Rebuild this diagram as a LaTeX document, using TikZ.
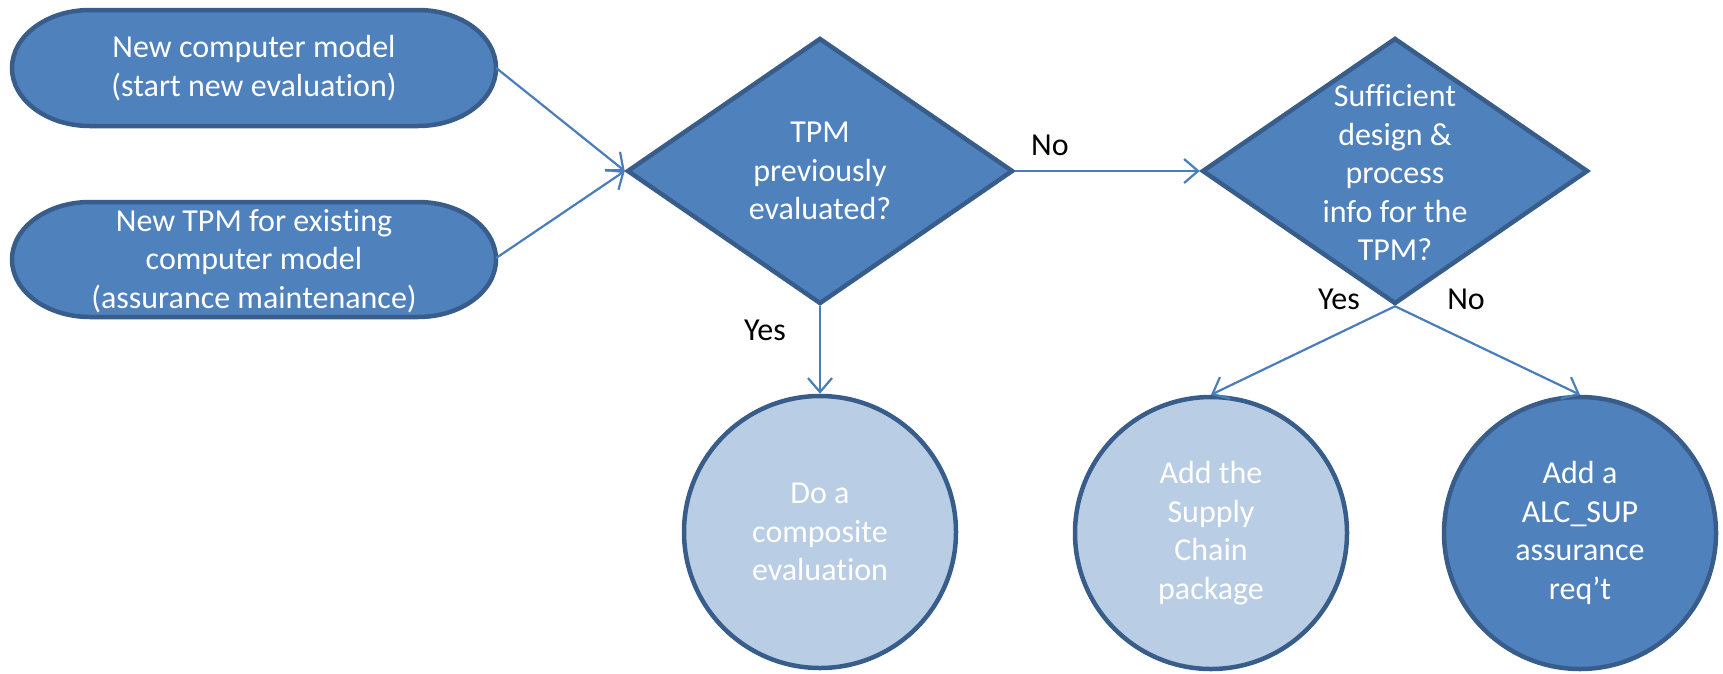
\documentclass[tikz,border=0pt]{standalone}
\usepackage{fontspec}
\setmainfont{Carlito}[Ligatures=NoCommon]
\usetikzlibrary{shapes.geometric,arrows.meta,backgrounds}
\definecolor{nodefill}{HTML}{4F81BD}
\definecolor{nodeline}{HTML}{385D8A}
\definecolor{lightfill}{HTML}{B9CDE5}
\definecolor{arrowcol}{HTML}{4A7EBB}
\tikzset{
  every node/.style={font=\fontsize{32}{38.5}\selectfont},
  shapeline/.style={draw=nodeline, line width=4.5pt, fill=nodefill},
  termbox/.style={draw=none, minimum width=484pt, minimum height=116pt, inner sep=0pt, text=white, align=center},
  decision/.style={diamond, shapeline, minimum width=386pt, minimum height=266pt, inner sep=0pt},
  inner text/.style={text=white, align=center},
  endcircle/.style={circle, shapeline, minimum size=272pt, inner sep=0pt, text=white, align=center},
  lightcircle/.style={endcircle, fill=lightfill},
  connector/.style={draw=arrowcol, line width=2.2pt, -{Straight Barb[length=14pt, width=24pt, line width=2.2pt]}},
  lbl/.style={text=black}
}
\begin{document}
\begin{tikzpicture}[x=1pt,y=1pt]
\useasboundingbox (0,0) rectangle (1723,-673);
% terminators
\path[shapeline] (90,-10) -- (418,-10) arc[start angle=90, end angle=-90, x radius=78, y radius=58] -- (90,-126) arc[start angle=270, end angle=90, x radius=78, y radius=58] -- cycle;
\node[termbox] (t1) at (254,-68) {New computer model\\(start new evaluation)};
\path[shapeline] (90,-202) -- (418,-202) arc[start angle=90, end angle=-90, x radius=78, y radius=57.5] -- (90,-317) arc[start angle=270, end angle=90, x radius=78, y radius=57.5] -- cycle;
\node[termbox, minimum height=115pt] (t2) at (254,-261) {New TPM for existing\\computer model\\(assurance maintenance)};
% decisions
\node[decision] (d1) at (820,-171) {};
\node[inner text] (d1t) at (d1.center) {TPM\\previously\\evaluated?};
\node[decision] (d2) at (1395,-171) {};
\node[inner text] (d2t) at (1395,-173) {Sufficient\\design \&\\process\\info for the\\TPM?};
% end circles
\node[lightcircle] (c1) at (820,-532) {Do a\\composite\\evaluation};
\node[lightcircle] (c2) at (1211,-533) {Add the\\Supply\\Chain\\package};
\node[endcircle] (c3) at (1580,-533) {Add a\\ALC\_SUP\\assurance\\req’t};
% connectors
\draw[connector] (t1.east) -- (d1.west);
\draw[connector] (t2.east |- 0,-258) -- (d1.west);
\draw[connector] (d1.east) -- (d2.west);
\draw[connector] (d1.south) -- (c1.north);
\draw[connector] (d2.south) -- (c2.north);
\draw[connector] (d2.south) -- (c3.north);
% labels
\node[lbl] (lno1) at (1050,-145) {No};
\node[lbl] (lyes1) at (765,-330) {Yes};
\node[lbl] (lyes2) at (1339,-299) {Yes};
\node[lbl] (lno2) at (1466,-299) {No};
\end{tikzpicture}
\end{document}
